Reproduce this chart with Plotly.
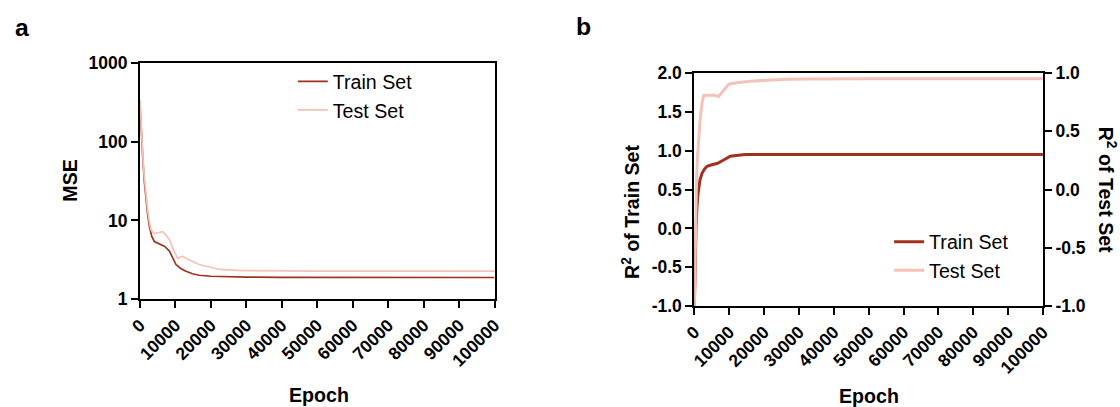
import plotly.graph_objects as go

# Panel a: MSE per epoch (log scale)
epoch_a = [0, 400, 760, 1200, 1690, 2200, 2650, 3300, 4050, 5500, 6870, 8280,
           9200, 10140, 11500, 12960, 14800, 16700, 20000, 25000, 30000, 40000,
           50000, 60000, 70000, 80000, 90000, 100000]
train_mse = [305, 120, 65, 32, 18.3, 11.5, 8.4, 6.3, 5.4, 5.0, 4.7, 4.1,
             3.4, 2.75, 2.45, 2.26, 2.1, 2.01, 1.95, 1.92, 1.9, 1.89,
             1.89, 1.88, 1.88, 1.88, 1.88, 1.88]

epoch_a_test = [0, 400, 760, 1200, 1690, 2200, 2650, 3100, 4000, 5000, 6400,
                7500, 8280, 9500, 10600, 12000, 13500, 16700, 22400, 29000,
                40000, 50000, 60000, 70000, 80000, 90000, 100000]
test_mse = [340, 130, 70, 36, 20, 13, 9.5, 7.6, 6.8, 7.0, 7.2,
            6.4, 5.7, 4.2, 3.3, 3.5, 3.2, 2.75, 2.38, 2.3,
            2.27, 2.27, 2.27, 2.27, 2.27, 2.27, 2.27]

# Panel b: R^2 per epoch (train on left axis, test on right axis)
epoch_b_train = [0, 250, 490, 750, 1060, 1600, 2200, 3000, 3640, 5000, 6500,
                 8420, 10300, 12000, 14600, 18000, 25000, 100000]
train_r2 = [-1.0, -0.4, 0.02, 0.28, 0.45, 0.62, 0.71, 0.77, 0.80, 0.82, 0.835,
            0.88, 0.93, 0.94, 0.95, 0.95, 0.95, 0.95]

epoch_b_test = [0, 300, 600, 900, 1260, 1720, 2200, 2700, 4000, 5560, 7000,
                8400, 9860, 12700, 17000, 26600, 32300, 50000, 100000]
test_r2 = [-1.0, -0.2, 0.05, 0.28, 0.45, 0.62, 0.74, 0.81, 0.81, 0.81, 0.80,
           0.85, 0.905, 0.92, 0.933, 0.947, 0.95, 0.951, 0.951]

epoch_ticks = [0, 10000, 20000, 30000, 40000, 50000, 60000, 70000, 80000, 90000, 100000]
mse_ticks = [1, 10, 100, 1000]
r2_train_ticks = [-1.0, -0.5, 0.0, 0.5, 1.0, 1.5, 2.0]
r2_test_ticks = [-1.0, -0.5, 0.0, 0.5, 1.0]

TRAIN_COLOR = "#a0301f"
TEST_COLOR = "#f4c2b6"
FONT = "Arial, Liberation Sans, sans-serif"

# Layout grid: positions below are given on a 1120x407 design grid and mapped
# onto the figure canvas, which sits inside the page's 8px body margin.
GRID_W, GRID_H = 1120, 407
VIEW_W, VIEW_H = 1140, 426
BODY = 8
W, H = VIEW_W - 2 * BODY, VIEW_H - 2 * BODY
SX, SY = VIEW_W / GRID_W, VIEW_H / GRID_H
FS = (SX + SY) / 2


def fx(px):
    return (px * SX - BODY) / W


def fy(py):
    return 1 - (py * SY - BODY) / H


def sz(v):
    return round(v * FS, 1)


fig = go.Figure()

fig.add_trace(go.Scatter(x=epoch_a, y=train_mse, name="Train Set", mode="lines",
                         line=dict(color=TRAIN_COLOR, width=1.7),
                         xaxis="x", yaxis="y", legend="legend"))
fig.add_trace(go.Scatter(x=epoch_a_test, y=test_mse, name="Test Set", mode="lines",
                         line=dict(color=TEST_COLOR, width=1.7),
                         xaxis="x", yaxis="y", legend="legend"))

fig.add_trace(go.Scatter(x=epoch_b_train, y=train_r2, name="Train Set", mode="lines",
                         line=dict(color=TRAIN_COLOR, width=3),
                         xaxis="x2", yaxis="y2", legend="legend2"))
fig.add_trace(go.Scatter(x=epoch_b_test, y=test_r2, name="Test Set", mode="lines",
                         line=dict(color=TEST_COLOR, width=3),
                         xaxis="x2", yaxis="y3", legend="legend2"))

tick_font = dict(family=FONT, size=sz(17), color="black", weight="bold")
axis_common = dict(showline=True, linecolor="black", linewidth=2, ticks="outside",
                   ticklen=7, tickwidth=2, tickcolor="black", showgrid=False,
                   zeroline=False, tickfont=tick_font)

xaxis_common = dict(axis_common, range=[0, 100000], tickvals=epoch_ticks,
                    ticktext=[str(v) for v in epoch_ticks], tickangle=-45)

legend_font = dict(family=FONT, size=sz(19), color="black")

fig.update_layout(
    width=W, height=H,
    margin=dict(l=0, r=0, t=0, b=0),
    paper_bgcolor="white", plot_bgcolor="white",
    font=dict(family=FONT, color="black"),
    xaxis=dict(xaxis_common, domain=[fx(136), fx(491)], anchor="y", mirror=True),
    yaxis=dict(axis_common, type="log", range=[0, 3], domain=[fy(298), fy(61)],
               anchor="x", mirror=True, tickvals=mse_ticks,
               ticktext=[str(v) for v in mse_ticks]),
    xaxis2=dict(xaxis_common, domain=[fx(691), fx(1040)], anchor="y2", mirror=True),
    yaxis2=dict(axis_common, range=[-1, 2], domain=[fy(305), fy(71)], anchor="x2",
                tickvals=r2_train_ticks, ticktext=[f"{v:.1f}" for v in r2_train_ticks]),
    yaxis3=dict(axis_common, range=[-1, 1], overlaying="y2", side="right",
                anchor="x2", tickvals=r2_test_ticks,
                ticktext=[f"{v:.1f}" for v in r2_test_ticks]),
    legend=dict(x=fx(289), y=fy(60), xanchor="left", yanchor="top",
                bgcolor="rgba(0,0,0,0)", font=legend_font,
                tracegroupgap=4, itemwidth=30),
    legend2=dict(x=fx(886), y=fy(221), xanchor="left", yanchor="top",
                 bgcolor="rgba(0,0,0,0)", font=legend_font,
                 tracegroupgap=4, itemwidth=30),
    showlegend=True,
)

title_font = dict(family=FONT, size=sz(19), color="black", weight="bold")
label_font = dict(family=FONT, size=sz(24), color="black", weight="bold")
annotations = [
    dict(text="a", x=fx(18), y=fy(25), font=label_font),
    dict(text="b", x=fx(580), y=fy(24), font=label_font),
    dict(text="MSE", x=fx(66), y=fy(179), textangle=-90, font=title_font),
    dict(text="Epoch", x=fx(315), y=fy(394), font=title_font),
    dict(text="Epoch", x=fx(866), y=fy(395), font=title_font),
    dict(text="R<sup>2</sup> of Train Set", x=fx(628), y=fy(210), textangle=-90,
         font=title_font),
    dict(text="R<sup>2</sup> of Test Set", x=fx(1105), y=fy(188), textangle=90,
         font=title_font),
]
for a in annotations:
    a.update(xref="paper", yref="paper", showarrow=False,
             xanchor="center", yanchor="middle")
fig.update_layout(annotations=annotations)

fig.write_html("out.html")
